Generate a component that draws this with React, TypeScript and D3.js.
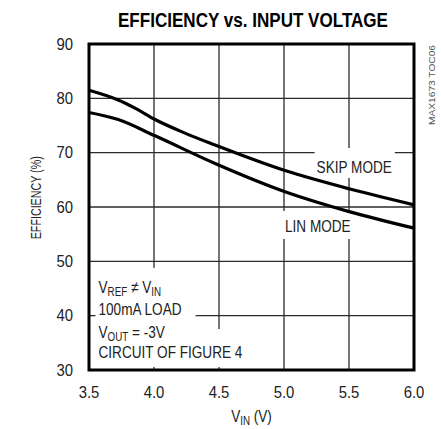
import React, { useEffect, useRef } from 'react'
import * as d3 from 'd3'

const vinSkip = [3.5, 3.725, 3.854, 4.008, 4.238, 4.47, 5.008, 5.508, 6.0]
const effSkip = [81.5, 79.7, 78.2, 76.1, 73.6, 71.4, 66.7, 63.3, 60.4]
const vinLin = [3.5, 3.725, 4.008, 4.47, 5.008, 5.508, 6.0]
const effLin = [77.4, 76.1, 73.1, 68.0, 62.8, 59.1, 56.1]

const xTicks = [3.5, 4.0, 4.5, 5.0, 5.5, 6.0]
const yTicks = [30, 40, 50, 60, 70, 80, 90]

const FONT = '"Liberation Sans", Arial, sans-serif'
// the original uses a narrow face; squeeze a regular one
const NARROW = 0.8

type G = d3.Selection<SVGGElement, unknown, null, undefined>

export default function App() {
  const svgRef = useRef<SVGSVGElement>(null)

  useEffect(() => {
    if (!svgRef.current) return
    const width = 441
    const height = 429
    const margin = { top: 44, right: 27, bottom: 59, left: 89 }

    const x = d3.scaleLinear().domain([3.5, 6.0]).range([margin.left, width - margin.right])
    const y = d3.scaleLinear().domain([30, 90]).range([height - margin.bottom, margin.top])

    const svg = d3.select(svgRef.current)
    svg.selectAll('*').remove()
    svg.style('font-family', FONT)

    // squeezed text, anchored at (px, py)
    const ctext = (parent: G, px: number, py: number, size: number, sx = NARROW, anchor = 'start') => {
      const g = parent.append('g').attr('transform', `translate(${px},${py}) scale(${sx},1)`)
      const t = g.append('text')
        .attr('x', 0).attr('y', 0)
        .attr('text-anchor', anchor)
        .style('font-size', `${size}px`)
        .attr('fill', '#222')
      return t
    }
    const withSub = (t: d3.Selection<SVGTextElement, unknown, null, undefined>, main: string, subText: string, rest: string) => {
      t.append('tspan').text(main)
      t.append('tspan').text(subText).style('font-size', '0.72em').attr('dy', 3)
      if (rest) t.append('tspan').text(rest).attr('dy', -3)
    }

    // grid
    const grid = svg.append('g').attr('stroke', '#2a2a2a').attr('stroke-width', 1.3)
    grid.selectAll('line.vx')
      .data(xTicks.slice(1, -1))
      .enter().append('line')
      .attr('x1', d => x(d)).attr('x2', d => x(d))
      .attr('y1', y(90)).attr('y2', y(30))
    grid.selectAll('line.hy')
      .data(yTicks.slice(1, -1))
      .enter().append('line')
      .attr('x1', x(3.5)).attr('x2', x(6.0))
      .attr('y1', d => y(d)).attr('y2', d => y(d))

    // labels sit on white patches that cut the grid
    const boxLayer = svg.append('g').attr('fill', '#fff')
    const textLayer = svg.append('g')

    const patch = (x0: number, y0: number, x1: number, y1: number) => {
      boxLayer.append('rect')
        .attr('x', x0).attr('y', y0)
        .attr('width', x1 - x0).attr('height', y1 - y0)
    }

    const skipX = x(5.54), skipY = y(66.26)
    const skip = ctext(textLayer, skipX, skipY, 17, NARROW, 'middle').text('SKIP MODE')
    {
      const b = skip.node()!.getBBox()
      const w = b.width * NARROW
      patch(skipX - w / 2 - 2, skipY - 25, skipX + w / 2 + 3, skipY + 5)
    }

    const linX = x(5.26), linY = y(55.4)
    const lin = ctext(textLayer, linX, linY, 17, NARROW, 'middle').text('LIN MODE')
    {
      const b = lin.node()!.getBBox()
      const w = b.width * NARROW
      patch(linX - w / 2 - 4, linY - 21, linX + w / 2 + 4, linY + 7)
    }

    // test conditions
    const noteX = x(3.573)
    const n1 = ctext(textLayer, noteX, y(44.2), 17)
    withSub(n1, 'V', 'REF', ' \u2260 V')
    n1.append('tspan').text('IN').style('font-size', '0.72em').attr('dy', 3)
    ctext(textLayer, noteX, y(40.1), 17).text('100mA LOAD')
    const n3 = ctext(textLayer, noteX, y(35.9), 17)
    withSub(n3, 'V', 'OUT', ' = -3V')
    const n4 = ctext(textLayer, noteX, y(32.2), 17).text('CIRCUIT OF FIGURE 4')
    {
      const w4 = n4.node()!.getBBox().width * NARROW
      const top4 = y(32.2) - 29
      patch(noteX - 3, y(44.2) - 25, x(4.32), top4)
      patch(noteX - 3, top4, noteX + w4 + 4, y(32.2) + 9)
    }

    // curves
    const line = d3.line<[number, number]>()
      .x(d => x(d[0]))
      .y(d => y(d[1]))
      .curve(d3.curveMonotoneX)

    const skipPts = vinSkip.map((v, i) => [v, effSkip[i]] as [number, number])
    const linPts = vinLin.map((v, i) => [v, effLin[i]] as [number, number])

    svg.append('path').attr('d', line(skipPts)).attr('fill', 'none')
      .attr('stroke', '#000').attr('stroke-width', 3.2)
    svg.append('path').attr('d', line(linPts)).attr('fill', 'none')
      .attr('stroke', '#000').attr('stroke-width', 3.2)

    // frame
    svg.append('rect')
      .attr('x', x(3.5)).attr('y', y(90))
      .attr('width', x(6.0) - x(3.5)).attr('height', y(30) - y(90))
      .attr('fill', 'none').attr('stroke', '#000').attr('stroke-width', 3)

    // tick labels
    const tickG = svg.append('g') as G
    yTicks.forEach(d => {
      ctext(tickG, x(3.5) - 16, y(d) + 5.8, 16, 0.93, 'end').text(d)
    })
    xTicks.forEach(d => {
      ctext(tickG, x(d), y(30) + 28, 16, 0.93, 'middle').text(d.toFixed(1))
    })

    // axis titles
    const xt = ctext(tickG, (x(3.5) + x(6.0)) / 2, y(30) + 52, 17, NARROW, 'middle')
    withSub(xt, 'V', 'IN', ' (V)')

    tickG.append('text')
      .attr('transform', `translate(40.5,${y(61.7)}) rotate(-90)`)
      .attr('text-anchor', 'middle')
      .attr('textLength', 83)
      .attr('lengthAdjust', 'spacingAndGlyphs')
      .attr('fill', '#222')
      .style('font-size', '14px')
      .text('EFFICIENCY (%)')

    // title
    svg.append('text')
      .attr('x', 118).attr('y', 26.5)
      .attr('textLength', 270)
      .attr('lengthAdjust', 'spacingAndGlyphs')
      .style('font-size', '19.5px')
      .style('font-weight', 'bold')
      .attr('fill', '#000')
      .text('EFFICIENCY vs. INPUT VOLTAGE')

    // part code on the side
    svg.append('text')
      .attr('transform', `translate(${x(6.0) + 21},${y(90) + 81}) rotate(-90)`)
      .attr('textLength', 80)
      .attr('lengthAdjust', 'spacingAndGlyphs')
      .style('font-size', '8.5px')
      .attr('fill', '#555')
      .text('MAX1673 TOC06')
  }, [])

  return (
    <svg ref={svgRef} width={441} height={429}
      style={{ position: 'absolute', left: 0, top: 0, background: '#fff' }} />
  )
}
